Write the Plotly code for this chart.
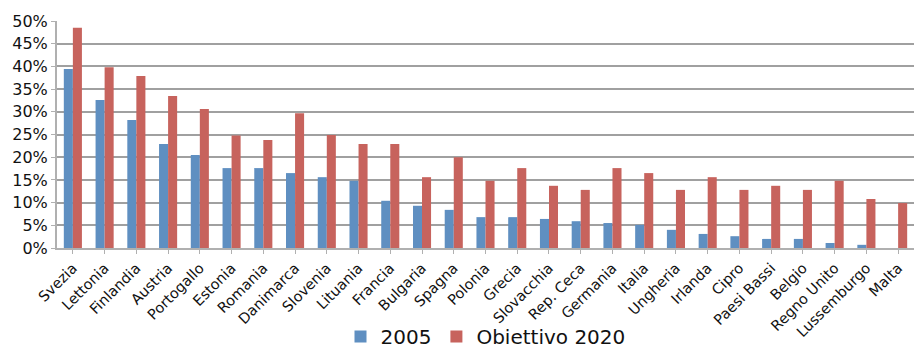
import plotly.graph_objects as go

countries = ["Svezia", "Lettonia", "Finlandia", "Austria", "Portogallo", "Estonia", "Romania",
             "Danimarca", "Slovenia", "Lituania", "Francia", "Bulgaria", "Spagna", "Polonia",
             "Grecia", "Slovacchia", "Rep. Ceca", "Germania", "Italia", "Ungheria", "Irlanda",
             "Cipro", "Paesi Bassi", "Belgio", "Regno Unito", "Lussemburgo", "Malta"]
v2005 = [39.4, 32.6, 28.2, 22.9, 20.5, 17.6, 17.6, 16.5, 15.6, 14.8, 10.4, 9.3, 8.4, 6.8,
         6.8, 6.4, 5.9, 5.5, 5.1, 4.0, 3.1, 2.6, 2.0, 2.0, 1.1, 0.7, 0.0]
v2020 = [48.5, 39.8, 37.9, 33.5, 30.6, 24.8, 23.8, 29.7, 24.9, 22.9, 22.9, 15.6, 20.0, 14.8,
         17.6, 13.7, 12.8, 17.6, 16.5, 12.8, 15.6, 12.8, 13.7, 12.8, 14.8, 10.8, 9.9]
yticks = [0, 5, 10, 15, 20, 25, 30, 35, 40, 45, 50]

font = "DejaVu Sans"
fig = go.Figure()
fig.add_trace(go.Bar(x=countries, y=v2005, name="2005", marker_color="#5f8fc1", marker_line_width=0))
fig.add_trace(go.Bar(x=countries, y=v2020, name="Obiettivo 2020", marker_color="#c7635d", marker_line_width=0))

fig.update_layout(
    width=917, height=349,
    margin=dict(l=57, r=3, t=21, b=101, autoexpand=False),
    paper_bgcolor="white", plot_bgcolor="white",
    barmode="group", bargap=0.43, bargroupgap=0,
    font=dict(family=font, color="#111111"),
    legend=dict(orientation="h", x=0.5, xanchor="center", y=-0.39, yanchor="middle",
                font=dict(size=20, family=font), itemwidth=30, tracegroupgap=0,
                borderwidth=0, bgcolor="rgba(0,0,0,0)"),
    showlegend=True,
)
fig.update_yaxes(range=[0, 50], tickvals=yticks, ticktext=[f"{t}%" for t in yticks],
                 showgrid=True, gridcolor="#a0a0a0", gridwidth=2,
                 showline=True, linecolor="#b0b0b0", linewidth=2,
                 ticks="outside", ticklen=4, tickcolor="#b0b0b0",
                 tickfont=dict(size=16, family=font), zeroline=False, automargin=False)
fig.update_xaxes(tickangle=-45, tickfont=dict(size=14.5, family=font),
                 showline=True, linecolor="#b0b0b0", linewidth=2,
                 ticks="outside", ticklen=4, tickcolor="#b0b0b0", automargin=False)
fig.write_html("out.html")
